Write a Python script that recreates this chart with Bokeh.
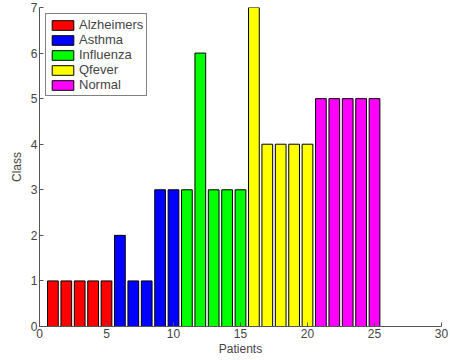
from bokeh.plotting import figure
from bokeh.models import ColumnDataSource, Range1d, FixedTicker, Legend, LegendItem
from bokeh.embed import file_html
from bokeh.resources import INLINE

groups = ["Alzheimers", "Asthma", "Influenza", "Qfever", "Normal"]
colors = ["#ff0000", "#0000ff", "#00ff00", "#ffff00", "#ff00ff"]
patients = [list(range(1, 6)), list(range(6, 11)), list(range(11, 16)),
            list(range(16, 21)), list(range(21, 26))]
classes = [[1, 1, 1, 1, 1], [2, 1, 1, 3, 3], [3, 6, 3, 3, 3],
           [7, 4, 4, 4, 4], [5, 5, 5, 5, 5]]

p = figure(width=450, height=358, output_backend="svg", toolbar_location=None,
           x_range=Range1d(0, 30), y_range=Range1d(0, 7),
           min_border_left=39, min_border_right=9, min_border_top=7, min_border_bottom=32)
p.outline_line_color = None
p.xgrid.visible = False
p.ygrid.visible = False

items = []
for g, c, xs, ys in zip(groups, colors, patients, classes):
    src = ColumnDataSource(dict(x=xs, top=ys))
    r = p.vbar(x="x", top="top", bottom=0, width=0.8, source=src,
               fill_color=c, line_color="black", line_width=1)
    items.append(LegendItem(label=g, renderers=[r]))

legend = Legend(items=items, location="top_left")
legend.label_text_font = "Liberation Sans"
legend.label_text_font_size = "13px"
legend.label_standoff = 3
legend.glyph_width = 27
legend.glyph_height = 12
legend.label_height = 12
legend.spacing = 0
legend.padding = 3
legend.margin = 6
legend.border_line_color = "black"
legend.border_line_width = 1.5
legend.background_fill_alpha = 1
p.add_layout(legend)

for ax in (p.xaxis, p.yaxis):
    ax.axis_line_color = "#555555"
    ax.major_tick_line_color = "#555555"
    ax.major_tick_in = 4
    ax.major_tick_out = 0
    ax.minor_tick_line_color = None
    ax.major_label_text_font = "Liberation Sans"
    ax.major_label_text_font_size = "12px"
    ax.axis_label_text_font = "Liberation Sans"
    ax.axis_label_text_font_size = "12px"
    ax.axis_label_text_font_style = "normal"
    ax.major_label_standoff = 2
    ax.axis_label_standoff = 1

p.yaxis.axis_label_standoff = 4
p.xaxis.ticker = FixedTicker(ticks=[0, 5, 10, 15, 20, 25, 30])
p.yaxis.ticker = FixedTicker(ticks=[0, 1, 2, 3, 4, 5, 6, 7])
p.xaxis.axis_label = "Patients"
p.yaxis.axis_label = "Class"
p.yaxis.major_label_orientation = "horizontal"

open("out.html", "w").write(file_html(p, INLINE))
